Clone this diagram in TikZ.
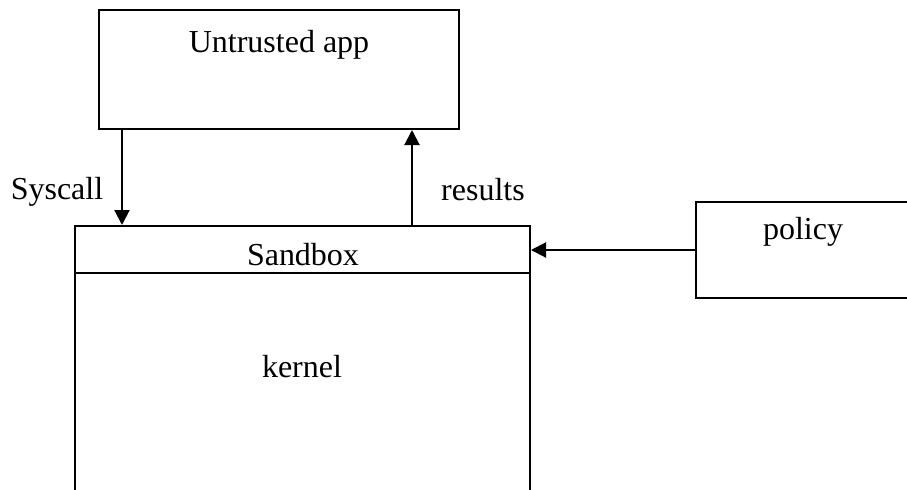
\documentclass[tikz,border=0pt]{standalone}
\usepackage{fontspec}
\setmainfont{Liberation Serif}
\usetikzlibrary{positioning, arrows.meta}

\begin{document}
\begin{tikzpicture}[x=0.5pt,y=-0.5pt,font=\fontsize{16}{19}\selectfont,box/.style={draw,line width=1pt,inner sep=0pt},arr/.style={line width=1pt,-{Triangle[length=7.5pt,width=7.5pt]}},lbl/.style={anchor=base,inner sep=0pt}]

\path[use as bounding box] (0,0) rectangle (907,489);
\clip (0,0) rectangle (907,489);

% Define boxes
\node[box,minimum width=180pt,minimum height=59.5pt] (app) at (279,69.5) {};
\node[box,minimum width=227.5pt,minimum height=187pt] (sandbox) at (302.5,413) {};
\node[box,minimum width=152pt,minimum height=48pt] (policy) at (848,250) {};
\coordinate (split) at (0,273);
\draw[line width=1pt] (sandbox.west |- split) -- (sandbox.east |- split);

% Texts
\node[lbl] (apptext) at (279,52) {Untrusted app};
\node[lbl] (sandboxtext) at (303,265) {Sandbox};
\node[lbl] (kerneltext) at (302,377) {kernel};
\node[lbl] (policytext) at (803,239) {policy};
\node[lbl] (syscalltext) at (57,199) {Syscall};
\node[lbl] (resultstext) at (483,200) {results};

% Arrows
\draw[arr] ([xshift=12pt]app.south west) -- ([xshift=12pt]app.south west |- sandbox.north);
\draw[arr] ([xshift=-24pt]app.south east |- sandbox.north) -- ([xshift=-24pt]app.south east);
\draw[arr] (policy.west) -- (policy.west -| sandbox.east);
\end{tikzpicture}
\end{document}
